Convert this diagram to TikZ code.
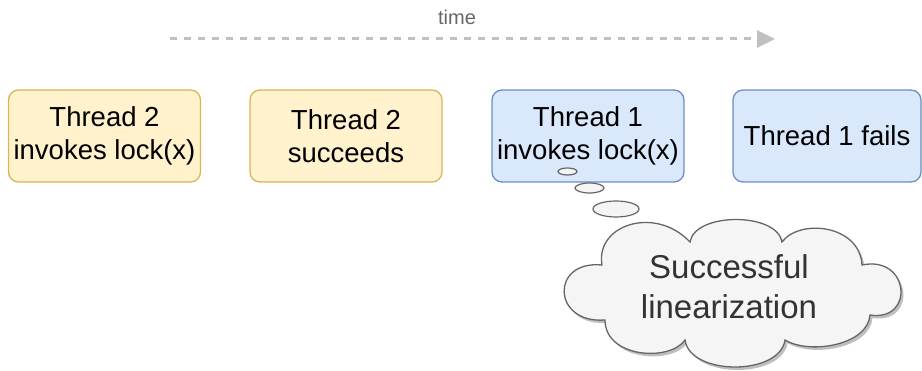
\documentclass[tikz,border=0pt]{standalone}
\usepackage{fontspec}
\setmainfont{Liberation Sans}
\usetikzlibrary{arrows.meta,shapes.geometric}

\definecolor{yfill}{HTML}{FFF2CC}
\definecolor{ystroke}{HTML}{D6B656}
\definecolor{bfill}{HTML}{DAE8FC}
\definecolor{bstroke}{HTML}{6C8EBF}
\definecolor{gfill}{HTML}{F5F5F5}
\definecolor{gstroke}{HTML}{666666}
\definecolor{gtext}{HTML}{333333}
\definecolor{timegray}{HTML}{666666}
\definecolor{arrowgray}{HTML}{C0C0C0}

% outline of the thought cloud: eight bumps, going clockwise from the left one
\newcommand\thoughtcloud{%
  (605,320) .. controls (552,324) and (550,260) .. (602,265)
  .. controls (595,225) and (655,205) .. (690,242)
  .. controls (695,212) and (777,212) .. (782,242)
  .. controls (800,218) and (860,225) .. (862,265)
  .. controls (910,255) and (915,322) .. (870,315)
  .. controls (868,345) and (810,355) .. (785,340)
  .. controls (780,376) and (690,376) .. (685,340)
  .. controls (670,362) and (605,358) .. (605,320) -- cycle}

\tikzset{
  box/.style={rounded corners=10pt, line width=1.3pt, minimum width=192pt,
    minimum height=92pt, align=center, inner sep=0pt,
    font=\fontsize{27.5}{33}\selectfont},
  yellowbox/.style={box, fill=yfill, draw=ystroke},
  bluebox/.style={box, fill=bfill, draw=bstroke},
  bubble/.style={ellipse, inner sep=0pt, fill=gfill, draw=gstroke, line width=1.2pt},
  cloudline/.style={fill=gfill, draw=gstroke, line width=1.3pt},
  cloudshadow/.style={fill=black, fill opacity=0.25, draw=none},
  timearrow/.style={draw=arrowgray, line width=3pt, dash pattern=on 7pt off 7pt,
    -{Triangle[length=18pt,width=17pt,fill=arrowgray]}},
}

\begin{document}
\begin{tikzpicture}[x=1pt,y=-1pt]
\useasboundingbox (0,0) rectangle (922,371);

% time axis
\node[text=timegray, font=\fontsize{20}{24}\selectfont] (timelbl) at (457,17) {time};
\coordinate (tstart) at (170,39);
\coordinate (tend) at (775,39);
\draw[timearrow] (tstart) -- (tend);

% events
\node[yellowbox] (t2inv) at (104.5,136) {Thread 2\\invokes lock(x)};
\node[yellowbox] (t2ok) at (346,136) {Thread 2\\succeeds};
\node[bluebox] (t1inv) at (588,136) {Thread 1\\invokes lock(x)};
\node[bluebox, minimum width=188pt] (t1fail) at (827,136) {Thread 1 fails};

% thought bubbles
\node[bubble, minimum width=19pt, minimum height=7pt] (b1) at (567.5,171.5) {};
\node[bubble, minimum width=29pt, minimum height=10pt] (b2) at (589.5,188) {};
\node[bubble, minimum width=46pt, minimum height=16pt] (b3) at (616,209) {};

% cloud with its shadow
\begin{scope}[shift={(2.5,3)}]
  \path[cloudshadow] \thoughtcloud;
\end{scope}
\path[cloudline] \thoughtcloud;
\node[align=center, text=gtext, font=\fontsize{33}{39.6}\selectfont] (cloudtxt) at (729,287)
  {Successful\\linearization};
\end{tikzpicture}
\end{document}
